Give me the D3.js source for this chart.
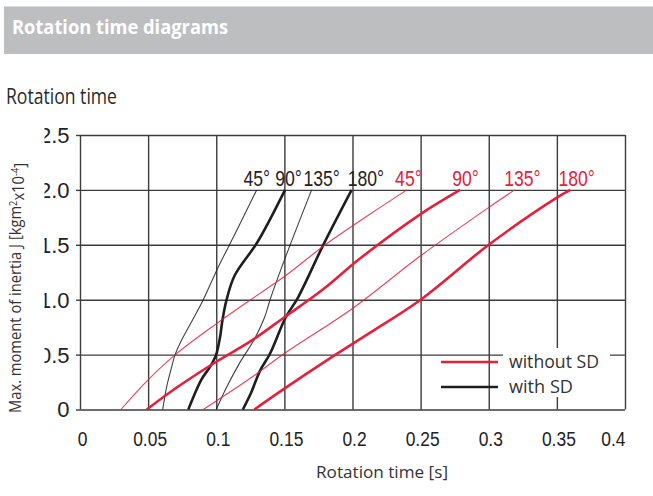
<!DOCTYPE html>
<html>
<head>
<meta charset="utf-8">
<script src="https://cdn.jsdelivr.net/npm/d3@7"></script>
<style>
body { margin: 0; background: #fff; }
svg { display: block; }
</style>
</head>
<body>
<svg id="chart"></svg>
<script>
// rotation time diagram
var width = 653, height = 496;

var xTicks = [0, 0.05, 0.1, 0.15, 0.2, 0.25, 0.3, 0.35, 0.4];
var xTickLabels = ["0", "0.05", "0.1", "0.15", "0.2", "0.25", "0.3", "0.35", "0.4"];
var yTicks = [0, 0.5, 1, 1.5, 2, 2.5];
var yTickLabels = ["0", "0.5", "1.0", "1.5", "2.0", "2.5"];

var angleLabels = ["45°", "90°", "135°", "180°"];

// [rotation time s, moment of inertia] - with soft deceleration (black)
var withSD45  = [[0.0607,0],[0.0636,0.207],[0.0673,0.389],[0.0697,0.495],[0.0746,0.632],[0.0832,0.829],[0.0905,1.0],[0.1008,1.28],[0.115,1.63],[0.1297,2.0]];
var withSD90  = [[0.0795,0],[0.089,0.27],[0.0955,0.39],[0.0998,0.495],[0.1028,0.66],[0.1045,0.81],[0.1076,1.0],[0.1135,1.22],[0.1305,1.53],[0.1505,2.0]];
var withSD135 = [[0.1,0],[0.1075,0.2],[0.117,0.42],[0.128,0.64],[0.1355,0.84],[0.1395,1.0],[0.15,1.36],[0.17,2.0]];
var withSD180 = [[0.1195,0],[0.1255,0.15],[0.132,0.35],[0.1395,0.51],[0.151,0.84],[0.16,1.02],[0.1786,1.5],[0.1994,2.0]];

// without soft deceleration (red)
var withoutSD45  = [[0.030,0],[0.05,0.27],[0.07,0.5],[0.1,0.78],[0.13,1.04],[0.151,1.22],[0.18,1.5],[0.213,1.78],[0.24,2.0]];
var withoutSD90  = [[0.049,0],[0.071,0.2],[0.1,0.435],[0.125,0.62],[0.15,0.84],[0.178,1.09],[0.2055,1.375],[0.25,1.78],[0.279,2.0]];
var withoutSD135 = [[0.0905,0],[0.125,0.284],[0.15,0.51],[0.2,0.92],[0.25,1.4],[0.3,1.84],[0.319,2.0]];
var withoutSD180 = [[0.128,0],[0.15,0.19],[0.187,0.495],[0.213,0.7],[0.25,1.0],[0.3,1.5],[0.35,1.93],[0.36,2.0]];

var legendLabels = ["without SD", "with SD"];

var red = "#e4203a", black = "#1e1e1e", gridColor = "#3c3c3c";
var sans = "'Liberation Sans', Arial, sans-serif";
var humanist = "'Open Sans', 'Noto Sans', sans-serif";

var series = [
	{pts: withSD45,  color: black, w: 1.1, label: angleLabels[0], dx: 0},
	{pts: withSD90,  color: black, w: 2.6, label: angleLabels[1], dx: 3.4},
	{pts: withSD135, color: black, w: 1.1, label: angleLabels[2], dx: 10},
	{pts: withSD180, color: black, w: 2.6, label: angleLabels[3], dx: 14.2},
	{pts: withoutSD45,  color: red, w: 1.1, label: angleLabels[0], dx: 1.4},
	{pts: withoutSD90,  color: red, w: 2.6, label: angleLabels[1], dx: 5.3},
	{pts: withoutSD135, color: red, w: 1.1, label: angleLabels[2], dx: 7.8},
	{pts: withoutSD180, color: red, w: 2.6, label: angleLabels[3], dx: 6.2}
];

var svg = d3.select("#chart").attr("width", width).attr("height", height);

// header bar
svg.append("rect").attr("x", 4).attr("y", 6.5).attr("width", 649).attr("height", 47.5).attr("fill", "#bdbec0");
svg.append("text")
	.attr("x", 12).attr("y", 34)
	.attr("fill", "#fff")
	.style("font-family", humanist).style("font-weight", 700).style("font-size", "19px")
	.attr("textLength", 216).attr("lengthAdjust", "spacingAndGlyphs")
	.text("Rotation time diagrams");

svg.append("text")
	.attr("x", 6).attr("y", 104)
	.attr("fill", "#2a2a2a")
	.style("font-family", humanist).style("font-size", "21px")
	.attr("textLength", 111).attr("lengthAdjust", "spacingAndGlyphs")
	.text("Rotation time");

var x = d3.scaleLinear().domain([0, 0.4]).range([80, 625]);
var y = d3.scaleLinear().domain([0, 2.5]).range([409.5, 135]);

// clip for the y tick labels (cut on the left in the original)
svg.append("clipPath").attr("id", "ylabclip")
	.append("rect").attr("x", 44.5).attr("y", 100).attr("width", 60).attr("height", 340);

// x grid + labels
var xAxis = svg.append("g")
	.attr("transform", "translate(0," + y(0) + ")")
	.call(d3.axisBottom(x).tickValues(xTicks)
		.tickSize(-(y(0) - y(2.5)))
		.tickPadding(22)
		.tickFormat(function(d, i){ return xTickLabels[i]; }));
xAxis.select(".domain").remove();
xAxis.selectAll("line").attr("stroke", gridColor).attr("stroke-width", 1.4);
xAxis.selectAll("text")
	.attr("fill", "#222")
	.style("font-family", sans).style("font-size", "21px")
	.attr("text-anchor", function(d, i){ return i == xTicks.length - 1 ? "end" : "middle"; })
	.attr("transform", function(d, i){
		var shift = i == xTicks.length - 1 ? 0 : (i == 0 ? 2 : 1.5);
		return "translate(" + shift + ",0) scale(0.83,1)";
	});

// y grid
var yAxis = svg.append("g")
	.attr("transform", "translate(" + x(0) + ",0)")
	.call(d3.axisLeft(y).tickValues(yTicks)
		.tickSize(-(x(0.4) - x(0)))
		.tickFormat(""));
yAxis.select(".domain").remove();
yAxis.selectAll("line").attr("stroke", gridColor).attr("stroke-width", 1.4);
yAxis.selectAll(".tick").append("line")
	.attr("x1", -4).attr("x2", 0)
	.attr("stroke", gridColor).attr("stroke-width", 1.4);

// y tick labels, clipped on the left like the original
svg.append("g").attr("clip-path", "url(#ylabclip)")
	.selectAll("text")
	.data(yTicks)
	.enter().append("text")
	.attr("x", x(0) - 10.5)
	.attr("y", function(d){ return y(d); })
	.attr("dy", "0.36em")
	.attr("text-anchor", "end")
	.attr("fill", "#222")
	.style("font-family", sans).style("font-size", "22px")
	.text(function(d, i){ return yTickLabels[i]; });

// curves
var line = d3.line()
	.x(function(d){ return x(d[0]); })
	.y(function(d){ return y(d[1]); })
	.curve(d3.curveCatmullRom.alpha(0.5));

var plot = svg.append("g");
plot.selectAll("path.curve")
	.data(series)
	.enter().append("path")
	.attr("class", "curve")
	.attr("d", function(d){ return line(d.pts); })
	.attr("fill", "none")
	.attr("stroke", function(d){ return d.color; })
	.attr("stroke-opacity", function(d){ return d.w < 2 ? 0.85 : 1; })
	.attr("stroke-width", function(d){ return d.w; });

// angle labels above each curve end (condensed like the source)
plot.selectAll("text.angle")
	.data(series)
	.enter().append("text")
	.attr("class", "angle")
	.attr("transform", function(d){
		var e = d.pts[d.pts.length - 1];
		return "translate(" + (x(e[0]) + d.dx) + ",185.5) scale(0.8,1)";
	})
	.attr("text-anchor", "middle")
	.attr("fill", function(d){ return d.color == red ? red : "#222"; })
	.style("font-family", sans).style("font-size", "22px")
	.text(function(d){ return d.label; });

// legend
var legend = svg.append("g");
legend.append("rect").attr("x", 503).attr("y", 348).attr("width", 107).attr("height", 49).attr("fill", "#fff");
var legendColors = [red, black];
legendLabels.forEach(function(lab, i){
	var ly = 362 + i * 25;
	legend.append("line")
		.attr("x1", 441).attr("x2", 498).attr("y1", ly).attr("y2", ly)
		.attr("stroke", legendColors[i]).attr("stroke-width", 2.6);
	legend.append("text")
		.attr("x", 509).attr("y", ly).attr("dy", "0.35em")
		.attr("fill", "#333")
		.style("font-family", humanist).style("font-size", "18px")
		.attr("textLength", i == 0 ? 90 : 64).attr("lengthAdjust", "spacingAndGlyphs")
		.text(lab);
});

// axis titles
svg.append("text")
	.attr("x", 382).attr("y", 478)
	.attr("text-anchor", "middle")
	.attr("fill", "#333")
	.style("font-family", humanist).style("font-size", "17px")
	.attr("textLength", 132).attr("lengthAdjust", "spacingAndGlyphs")
	.text("Rotation time [s]");

var ylab = svg.append("text")
	.attr("transform", "translate(21,288) rotate(-90)")
	.attr("text-anchor", "middle")
	.attr("fill", "#333")
	.style("font-family", humanist).style("font-size", "16px")
	.attr("textLength", 250).attr("lengthAdjust", "spacingAndGlyphs");
ylab.append("tspan").text("Max. moment of inertia J [kgm");
ylab.append("tspan").attr("dy", "-0.45em").style("font-size", "10px").text("2");
ylab.append("tspan").attr("dy", "0.45em").text("x10");
ylab.append("tspan").attr("dy", "-0.45em").style("font-size", "10px").text("-4");
ylab.append("tspan").attr("dy", "0.45em").text("]");
</script>
</body>
</html>
